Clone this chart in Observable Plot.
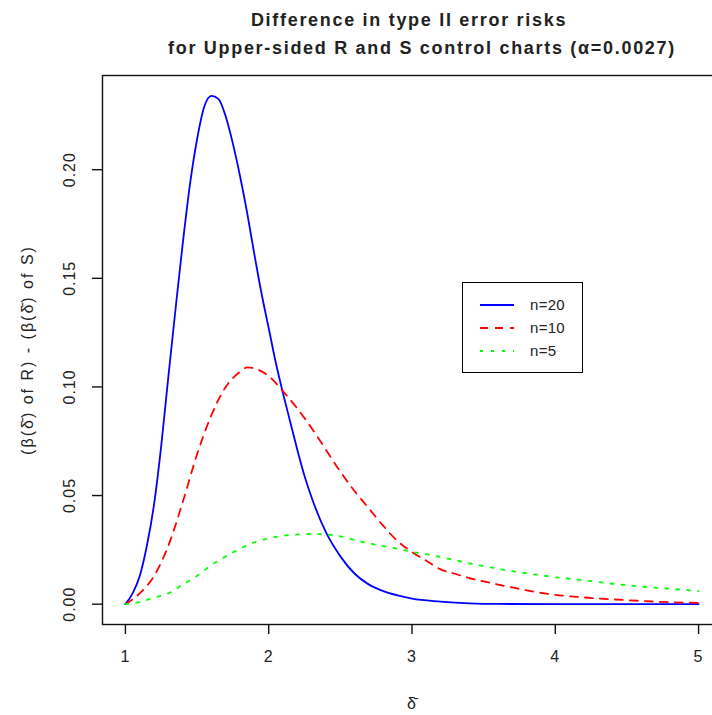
<!DOCTYPE html>
<html>
<head>
<meta charset="utf-8">
<script src="https://cdn.jsdelivr.net/npm/d3@7"></script>
<script src="https://cdn.jsdelivr.net/npm/@observablehq/plot@0.6"></script>
<style>
  html, body { margin: 0; padding: 0; background: #fff; overflow: hidden; }
  #wrap { position: relative; width: 712px; height: 715px; overflow: hidden; }
  #legend { position: absolute; left: 462px; top: 282px; width: 119px; height: 89px;
            border: 1.4px solid #000; background: #fff; font-family: "Liberation Sans", Arial, sans-serif; font-size: 15px; }
  .row { position: absolute; left: 0; height: 20px; }
  .row svg { position: absolute; left: 16px; top: 4px; }
  .row span { position: absolute; left: 67px; top: 0; line-height: 20px; color: #222; letter-spacing: 0.3px; }
</style>
</head>
<body>
<div id="wrap"></div>
<script>
// ---- data ----
const title1 = "Difference in type II error risks";
const title2 = "for Upper-sided R and S control charts (\u03b1=0.0027)";
const xLabel = "\u03b4\u0304";
const yLabel = "(\u03b2(\u03b4\u0304) of R) - (\u03b2(\u03b4\u0304) of S)";
const seriesNames = ["n=20", "n=10", "n=5"];
const seriesColors = ["#0000ff", "#ff0000", "#00ff00"];
const xTicks = [1, 2, 3, 4, 5];
const yTicks = [0, 0.05, 0.10, 0.15, 0.20];

const delta20 = [1.00,1.05,1.10,1.15,1.20,1.25,1.30,1.35,1.40,1.45,1.50,1.55,1.60,1.65,1.70,1.75,1.80,1.85,1.90,1.95,2.00,2.05,2.10,2.15,2.20,2.25,2.30,2.40,2.50,2.60,2.70,2.80,2.90,3.00,3.20,3.40,3.60,4.00,4.50,5.00];
const diff20  = [0,0.005,0.013,0.027,0.046,0.073,0.105,0.136,0.166,0.193,0.214,0.229,0.234,0.2325,0.2245,0.212,0.197,0.180,0.161,0.143,0.127,0.111,0.097,0.084,0.071,0.059,0.049,0.033,0.022,0.014,0.009,0.006,0.004,0.0025,0.0012,0.0004,0.0001,0,0,0];

const delta10 = [1.0,1.1,1.2,1.3,1.4,1.5,1.6,1.7,1.8,1.85,1.9,2.0,2.1,2.2,2.3,2.4,2.5,2.6,2.7,2.8,2.9,3.0,3.1,3.2,3.3,3.4,3.5,3.6,3.7,3.8,3.9,4.0,4.2,4.4,4.6,4.8,5.0];
const diff10  = [0,0.005,0.013,0.027,0.047,0.069,0.087,0.100,0.107,0.109,0.1085,0.105,0.098,0.090,0.081,0.071,0.061,0.052,0.044,0.036,0.029,0.024,0.020,0.016,0.014,0.012,0.0105,0.009,0.0077,0.0063,0.0052,0.0043,0.0031,0.0022,0.0015,0.0009,0.0006];

const delta5 = [1.0,1.1,1.2,1.3,1.4,1.5,1.6,1.7,1.8,1.9,2.0,2.1,2.2,2.3,2.4,2.5,2.6,2.7,2.8,2.9,3.0,3.1,3.2,3.3,3.4,3.5,3.6,3.7,3.8,3.9,4.0,4.2,4.4,4.6,4.8,5.0];
const diff5  = [0,0.001,0.003,0.005,0.009,0.013,0.018,0.022,0.0255,0.0285,0.0303,0.0315,0.0321,0.0323,0.0321,0.0312,0.0295,0.0280,0.0267,0.0255,0.0241,0.0230,0.0217,0.0202,0.0188,0.0175,0.0163,0.0152,0.0142,0.0133,0.0124,0.0110,0.0094,0.0081,0.0071,0.0060];

const dashes = [null, "8,7", "3,8"];

// ---- build table ----
const rows = [];
[[delta20, diff20], [delta10, diff10], [delta5, diff5]].forEach(([xs, ys], i) => {
  xs.forEach((d, j) => rows.push({series: seriesNames[i], d, v: ys[j]}));
});

// R-style 4% padding
const allX = rows.map(r => r.d), allY = rows.map(r => r.v);
const [x0, x1] = d3.extent(allX), [y0, y1] = d3.extent(allY);
const px = (x1 - x0) * 0.04, py = (y1 - y0) * 0.04;

const font = "'Liberation Sans', Arial, sans-serif";

const chart = Plot.plot({
  width: 712,
  height: 715,
  marginLeft: 102,
  marginRight: -9,
  marginTop: 75,
  marginBottom: 91,
  style: {fontFamily: font, fontSize: "16px", background: "white", color: "#222"},
  x: {domain: [x0 - px, x1 + px]},
  y: {domain: [y0 - py, y1 + py]},
  marks: [
    Plot.frame({stroke: "#111", strokeWidth: 1.4}),
    ...seriesNames.map((s, i) => Plot.line(rows.filter(r => r.series === s), {
      x: "d", y: "v", stroke: seriesColors[i], strokeWidth: 1.8, curve: "monotone-x",
      strokeDasharray: dashes[i] || undefined
    })),
    Plot.axisX({ticks: xTicks, tickSize: 10, tickPadding: 16, label: null, tickFormat: d3.format("d"), fontSize: 16, stroke: "#111", strokeWidth: 1.4, fill: "#222"}),
    Plot.axisY({ticks: yTicks, tickSize: 10, tickPadding: 18, label: null, tickRotate: -90, textAnchor: "middle", lineAnchor: "bottom",
      tickFormat: d3.format(".2f"), fontSize: 16, stroke: "#111", strokeWidth: 1.4, fill: "#222"}),
    Plot.text([xLabel], {text: d => d, frameAnchor: "bottom", dy: 84, fontSize: 16, fill: "#222"}),
    Plot.text([yLabel], {text: d => d, frameAnchor: "left", dx: -75, rotate: -90, textAnchor: "middle", fontSize: 16, fill: "#222", className: "ylab"}),
    Plot.text([title1], {text: d => d, frameAnchor: "top", dy: -62, dx: -3, fontSize: 18, fontWeight: "bold", fill: "#222", className: "ttl"}),
    Plot.text([title2], {text: d => d, frameAnchor: "top", dy: -34, dx: 10, fontSize: 18, fontWeight: "bold", fill: "#222", className: "ttl"})
  ]
});
d3.select(chart).selectAll("text").style("letter-spacing", "1px");
d3.select(chart).selectAll(".ttl text").style("letter-spacing", "1.7px");
d3.select(chart).selectAll(".ylab text").style("letter-spacing", "2px");
const wrap = document.getElementById("wrap");
wrap.appendChild(chart);

// legend
const legend = document.createElement("div");
legend.id = "legend";
seriesNames.forEach((s, i) => {
  const row = document.createElement("div");
  row.className = "row";
  row.style.top = (12 + i * 23) + "px";
  row.style.width = "119px";
  const dash = dashes[i] ? `stroke-dasharray="${dashes[i]}"` : "";
  row.innerHTML = `<svg width="36" height="12"><line x1="1" y1="6" x2="35" y2="6" stroke="${seriesColors[i]}" stroke-width="1.8" ${dash}/></svg><span>${s}</span>`;
  legend.appendChild(row);
});
wrap.appendChild(legend);
</script>
</body>
</html>
